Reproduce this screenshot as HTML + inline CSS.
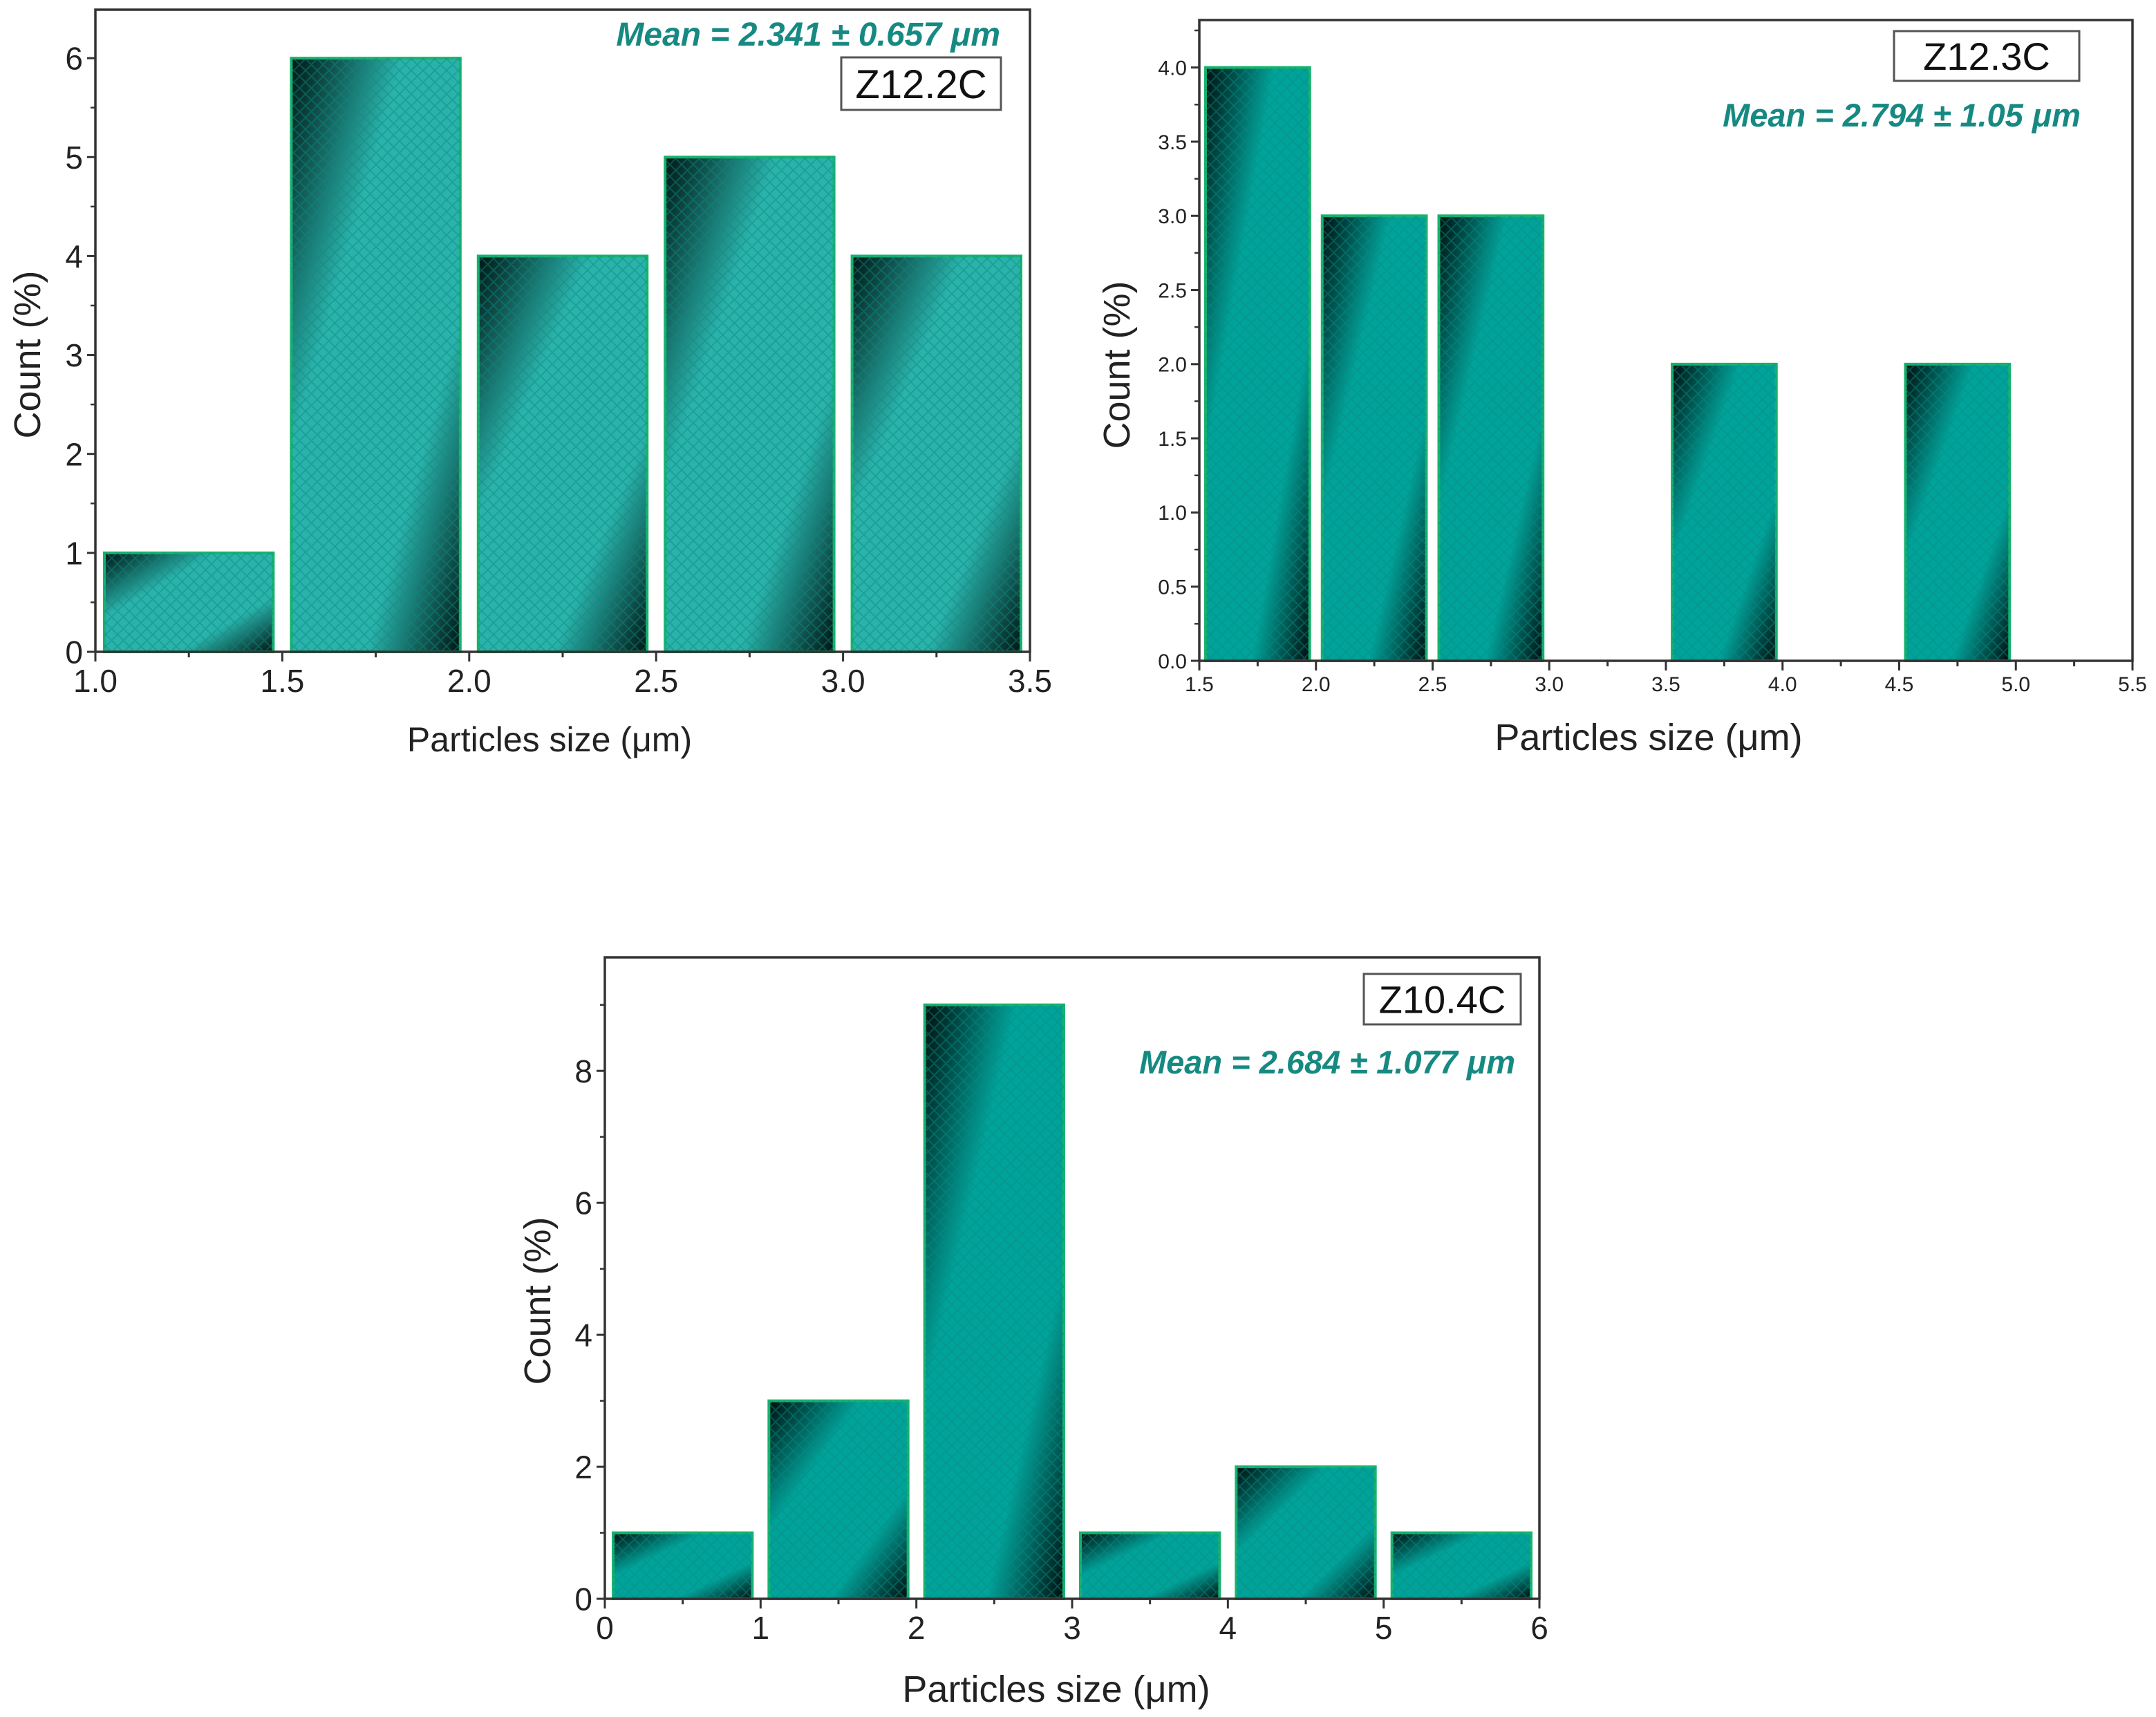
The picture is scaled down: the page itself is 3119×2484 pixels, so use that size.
<!DOCTYPE html>
<html><head><meta charset="utf-8">
<style>
html,body{margin:0;padding:0;background:#fff;}
svg{display:block;}
text{font-family:"Liberation Sans",sans-serif;}
</style></head>
<body>
<svg id="fig" width="3119" height="2484" viewBox="0 0 3119 2484" xmlns="http://www.w3.org/2000/svg">
<defs>
<linearGradient id="g1" x1="0" y1="0" x2="1" y2="1">
<stop offset="0" stop-color="#001512"/><stop offset="0.33" stop-color="#2ab3ab"/><stop offset="0.72" stop-color="#2ab3ab"/><stop offset="1" stop-color="#001512"/></linearGradient>
<linearGradient id="g2" x1="0" y1="0" x2="1" y2="1">
<stop offset="0" stop-color="#000d0c"/><stop offset="0.33" stop-color="#00a39a"/><stop offset="0.72" stop-color="#00a39a"/><stop offset="1" stop-color="#000d0c"/></linearGradient>
<pattern id="hatch" width="17" height="17" patternUnits="userSpaceOnUse">
<path d="M0 0L17 17M17 0L0 17" stroke="#0a8a82" stroke-width="2" opacity="0.45"/>
</pattern>
</defs>
</svg>
<script>
// Chart 1: Z12.2C
const c1Bins = [1.0, 1.5, 2.0, 2.5, 3.0];
const c1Counts = [1, 6, 4, 5, 4];
const c1XTicks = ["1.0","1.5","2.0","2.5","3.0","3.5"];
const c1YTicks = ["0","1","2","3","4","5","6"];
// Chart 2: Z12.3C
const c2Bins = [1.5, 2.0, 2.5, 3.5, 4.5];
const c2Counts = [4, 3, 3, 2, 2];
const c2XTicks = ["1.5","2.0","2.5","3.0","3.5","4.0","4.5","5.0","5.5"];
const c2YTicks = ["0.0","0.5","1.0","1.5","2.0","2.5","3.0","3.5","4.0"];
// Chart 3: Z10.4C
const c3Bins = [0, 1, 2, 3, 4, 5];
const c3Counts = [1, 3, 9, 1, 2, 1];
const c3XTicks = ["0","1","2","3","4","5","6"];
const c3YTicks = ["0","2","4","6","8"];

const NS = "http://www.w3.org/2000/svg";
const svg = document.getElementById('fig');
function mk(tag, attrs, parent){
  const e = document.createElementNS(NS, tag);
  for (const k in attrs) e.setAttribute(k, attrs[k]);
  (parent||svg).appendChild(e);
  return e;
}

function chart(cfg){
  const g = mk('g', {});
  
  
  const sx = v => cfg.L + (v - cfg.x0) / (cfg.x1 - cfg.x0) * (cfg.R - cfg.L);
  const sy = v => cfg.B - (v - cfg.y0) / (cfg.y1 - cfg.y0) * (cfg.B - cfg.T);
  cfg.bins.forEach((b, i) => {
    const xa = sx(b) + cfg.gap, xb = sx(b + cfg.bw) - cfg.gap;
    const yt = sy(cfg.counts[i]), yb = sy(0);
    const r = mk('rect', {x: xa, y: yt, width: xb - xa, height: yb - yt, fill: cfg.grad, stroke: '#17b36e', 'stroke-width': 4}, g);
    
    
    const h = mk('rect', {x: xa, y: yt, width: xb - xa, height: yb - yt, fill: 'url(#hatch)'}, g);
    
    
  });
  const f = mk('rect', {x: cfg.L, y: cfg.T, width: cfg.R - cfg.L, height: cfg.B - cfg.T, fill: 'none', stroke: '#333', 'stroke-width': 3.5}, g);
  
  
  const xs = cfg.xTicks.length;
  cfg.xTicks.forEach((lab, i) => {
    const v = cfg.x0 + i * cfg.xStep;
    const x = sx(v);
    mk('line', {x1: x, y1: cfg.B, x2: x, y2: cfg.B + 14, stroke: '#333', 'stroke-width': 3}, g);
    if (i < xs - 1) { const xm = sx(v + cfg.xStep/2); mk('line', {x1: xm, y1: cfg.B, x2: xm, y2: cfg.B + 8, stroke: '#333', 'stroke-width': 3}, g); }
    const t = mk('text', {x: x, y: cfg.B + cfg.xLabOff, 'font-size': cfg.tickFs, 'text-anchor': 'middle', fill: '#222'}, g);
    t.textContent = lab;
    
    
  });
  cfg.yTicks.forEach((lab, i) => {
    const v = cfg.y0 + i * cfg.yStep;
    const y = sy(v);
    mk('line', {x1: cfg.L, y1: y, x2: cfg.L - 12, y2: y, stroke: '#333', 'stroke-width': 3}, g);
    const ym = sy(v + cfg.yStep/2);
    if (ym > cfg.T) mk('line', {x1: cfg.L, y1: ym, x2: cfg.L - 7, y2: ym, stroke: '#333', 'stroke-width': 2.5}, g);
    const t = mk('text', {x: cfg.L - 18, y: y + cfg.tickFs*0.36, 'font-size': cfg.tickFs, 'text-anchor': 'end', fill: '#222'}, g);
    t.textContent = lab;
    
    
  });
  const xt = mk('text', {x: cfg.xtX, y: cfg.xtY, 'font-size': cfg.titleFs, 'text-anchor': 'middle', fill: '#222'}, g);
  xt.textContent = 'Particles size (μm)';
  
  
  const yt = mk('text', {x: 0, y: 0, 'font-size': cfg.yTitleFs, 'text-anchor': 'middle', fill: '#222', transform: `translate(${cfg.ytX},${cfg.ytY}) rotate(-90)`}, g);
  yt.textContent = 'Count (%)';
  
  
  const lb = mk('rect', {x: cfg.box[0], y: cfg.box[1], width: cfg.box[2], height: cfg.box[3], fill: '#fff', stroke: '#555', 'stroke-width': 3}, g);
  
  
  const lt = mk('text', {x: cfg.box[0] + cfg.box[2]/2, y: cfg.box[1] + cfg.box[3]/2 + cfg.boxFs*0.36, 'font-size': cfg.boxFs, 'text-anchor': 'middle', fill: '#111'}, g);
  lt.textContent = cfg.label;
  
  
  const mt = mk('text', {x: cfg.meanX, y: cfg.meanY, 'font-size': cfg.meanFs, 'text-anchor': 'end', fill: '#168a82', 'font-weight': 'bold', 'font-style': 'italic'}, g);
  mt.textContent = cfg.mean;
  
  
}

chart({name:'chart-z12-2c', L:138, R:1490, T:14, B:943, x0:1.0, x1:3.5, y0:0, y1:6.49, xStep:0.5, yStep:1,
  bins:c1Bins, counts:c1Counts, bw:0.5, gap:13, grad:'url(#g1)', xTicks:c1XTicks, yTicks:c1YTicks,
  tickFs:46, xLabOff:58, titleFs:50, yTitleFs:54, xtX:795, xtY:1087, ytX:58, ytY:513,
  box:[1217,83,231,76], boxFs:58, label:'Z12.2C', meanX:1447, meanY:66, meanFs:48, mean:'Mean = 2.341 ± 0.657 μm'});

chart({name:'chart-z12-3c', L:1735, R:3085, T:29, B:956, x0:1.5, x1:5.5, y0:0, y1:4.32, xStep:0.5, yStep:0.5,
  bins:c2Bins, counts:c2Counts, bw:0.5, gap:9, grad:'url(#g2)', xTicks:c2XTicks, yTicks:c2YTicks,
  tickFs:30, xLabOff:44, titleFs:54, yTitleFs:54, xtX:2385, xtY:1085, ytX:1634, ytY:528,
  box:[2740,45,268,72], boxFs:56, label:'Z12.3C', meanX:3010, meanY:183, meanFs:47, mean:'Mean = 2.794 ± 1.05 μm'});

chart({name:'chart-z10-4c', L:875, R:2227, T:1385, B:2313, x0:0, x1:6, y0:0, y1:9.72, xStep:1, yStep:2,
  bins:c3Bins, counts:c3Counts, bw:1, gap:12, grad:'url(#g2)', xTicks:c3XTicks, yTicks:c3YTicks,
  tickFs:46, xLabOff:58, titleFs:54, yTitleFs:54, xtX:1528, xtY:2462, ytX:796, ytY:1882,
  box:[1973,1409,227,73], boxFs:56, label:'Z10.4C', meanX:2192, meanY:1553, meanFs:47, mean:'Mean = 2.684 ± 1.077 μm'});
</script>
</body></html>
